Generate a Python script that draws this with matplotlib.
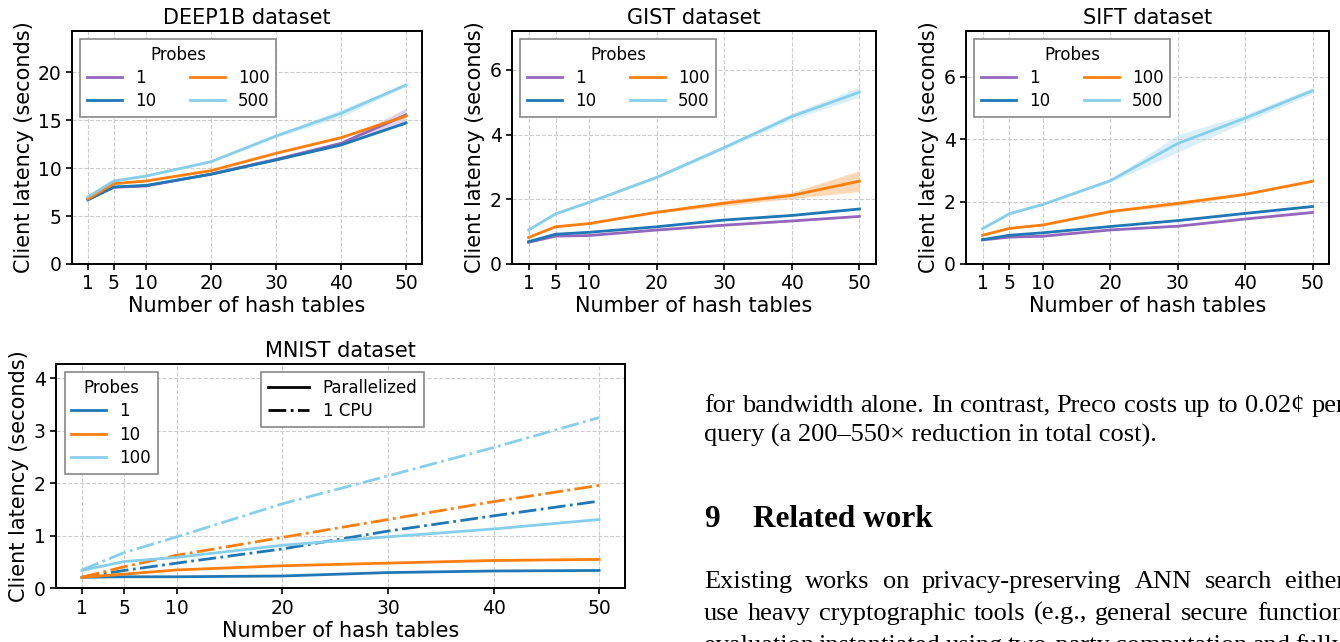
import matplotlib
matplotlib.use("Agg")
import matplotlib.pyplot as plt
from matplotlib.lines import Line2D
import numpy as np

tables = [1, 5, 10, 20, 30, 40, 50]

# colours per probe count
colors = {"1": "#9467bd", "10": "#1f77b4", "100": "#ff7f0e", "500": "#87ceeb"}

# mean latency and spread (half width of band), per dataset
deep1b = {
    "1": [6.75, 8.0, 8.14, 9.39, 10.92, 12.59, 15.55],
    "10": [6.68, 8.03, 8.2, 9.36, 10.85, 12.42, 14.71],
    "100": [6.78, 8.38, 8.66, 9.74, 11.55, 13.18, 15.44],
    "500": [7.0, 8.66, 9.18, 10.68, 13.36, 15.72, 18.68],
}
deep1b_err = {
    "1": [0.05, 0.05, 0.05, 0.08, 0.1, 0.15, 0.7],
    "10": [0.05, 0.05, 0.05, 0.05, 0.05, 0.1, 0.1],
    "100": [0.05, 0.05, 0.05, 0.05, 0.08, 0.1, 0.12],
    "500": [0.05, 0.1, 0.1, 0.1, 0.15, 0.4, 0.15],
}
gist = {
    "1": [0.67, 0.86, 0.88, 1.05, 1.2, 1.33, 1.47],
    "10": [0.69, 0.92, 0.98, 1.15, 1.36, 1.5, 1.70],
    "100": [0.82, 1.15, 1.25, 1.6, 1.88, 2.12, 2.56],
    "500": [1.05, 1.55, 1.91, 2.68, 3.6, 4.56, 5.31],
}
gist_err = {
    "1": [0.01, 0.01, 0.01, 0.01, 0.02, 0.02, 0.02],
    "10": [0.01, 0.01, 0.01, 0.01, 0.02, 0.02, 0.02],
    "100": [0.01, 0.02, 0.02, 0.03, 0.08, 0.1, 0.32],
    "500": [0.02, 0.03, 0.03, 0.05, 0.06, 0.1, 0.15],
}
sift = {
    "1": [0.77, 0.86, 0.89, 1.09, 1.21, 1.44, 1.65],
    "10": [0.78, 0.92, 1.0, 1.2, 1.39, 1.62, 1.84],
    "100": [0.92, 1.14, 1.25, 1.68, 1.94, 2.23, 2.65],
    "500": [1.13, 1.61, 1.91, 2.67, 3.86, 4.67, 5.55],
}
sift_err = {
    "1": [0.01, 0.01, 0.01, 0.01, 0.02, 0.02, 0.02],
    "10": [0.01, 0.01, 0.01, 0.01, 0.02, 0.02, 0.02],
    "100": [0.01, 0.02, 0.02, 0.03, 0.07, 0.03, 0.03],
    "500": [0.02, 0.03, 0.03, 0.05, 0.28, 0.12, 0.1],
}

# MNIST: parallelized vs single cpu
mnist_probes = ["1", "10", "100"]
mnist_colors = ["#1f77b4", "#ff7f0e", "#87ceeb"]
mnist_par = {
    "1": [0.21, 0.22, 0.22, 0.235, 0.30, 0.33, 0.34],
    "10": [0.21, 0.27, 0.35, 0.43, 0.48, 0.53, 0.55],
    "100": [0.34, 0.51, 0.59, 0.82, 0.98, 1.13, 1.31],
}
mnist_cpu = {
    "1": [0.21, 0.34, 0.48, 0.75, 1.09, 1.38, 1.66],
    "10": [0.21, 0.41, 0.63, 0.97, 1.31, 1.65, 1.96],
    "100": [0.35, 0.68, 0.98, 1.61, 2.14, 2.68, 3.25],
}

# paper text around the figure
para1 = ["for bandwidth alone.  In contrast, Preco costs up to 0.02\u00a2 per",
         "query (a 200\u2013550\u00d7 reduction in total cost)."]
section = ("9", "Related work")
para2 = ["Existing works on privacy-preserving ANN search either",
         "use heavy cryptographic tools (e.g., general secure function",
         "evaluation instantiated using two-party computation and fully"]

FS_T = 15
FS_K = 13.5
FS_L = 12


def style_ax(ax, title):
    ax.set_title(title, fontsize=FS_T, pad=5)
    ax.set_xlabel("Number of hash tables", fontsize=FS_T, labelpad=2)
    ax.set_ylabel("Client latency (seconds)", fontsize=FS_T, labelpad=3)
    ax.set_xticks(tables)
    ax.tick_params(labelsize=FS_K, length=4, width=1.2)
    ax.grid(True, linestyle="--", color="#cccccc", linewidth=0.8)
    for s in ax.spines.values():
        s.set_linewidth(1.4)


def plot_panel(ax, data, err, title, ymax, yticks):
    for key in ["1", "10", "100", "500"]:
        y = np.array(data[key])
        e = np.array(err[key])
        ax.plot(tables, y, color=colors[key], lw=2, label=key)
        ax.fill_between(tables, y - e, y + e, color=colors[key], alpha=0.3, lw=0)
    ax.set_ylim(0, ymax)
    ax.set_yticks(yticks)
    style_ax(ax, title)
    leg = ax.legend(title="Probes", ncol=2, loc="upper left", fontsize=FS_L,
                    title_fontsize=FS_L, fancybox=False, edgecolor="#888888",
                    framealpha=1, handlelength=2.1, columnspacing=2.0,
                    borderpad=0.4, labelspacing=0.3)
    leg.get_frame().set_linewidth(1.2)


fig = plt.figure(figsize=(13.4, 6.42), dpi=100)

ax1 = fig.add_axes([0.0537, 0.5888, 0.2612, 0.3629])
plot_panel(ax1, deep1b, deep1b_err, "DEEP1B dataset", 24.3, [0, 5, 10, 15, 20])
ax2 = fig.add_axes([0.3821, 0.5888, 0.2716, 0.3629])
plot_panel(ax2, gist, gist_err, "GIST dataset", 7.2, [0, 2, 4, 6])
ax3 = fig.add_axes([0.7209, 0.5888, 0.2709, 0.3629])
plot_panel(ax3, sift, sift_err, "SIFT dataset", 7.46, [0, 2, 4, 6])

# MNIST panel
ax4 = fig.add_axes([0.0418, 0.0836, 0.4246, 0.3494])
handles = []
for key, c in zip(mnist_probes, mnist_colors):
    h, = ax4.plot(tables, mnist_par[key], color=c, lw=2, label=key)
    ax4.plot(tables, mnist_cpu[key], color=c, lw=2, linestyle="-.")
    handles.append(h)
ax4.set_ylim(0, 4.27)
ax4.set_yticks([0, 1, 2, 3, 4])
style_ax(ax4, "MNIST dataset")
leg1 = ax4.legend(handles=handles, title="Probes", loc="upper left",
                  bbox_to_anchor=(0.015, 0.964), borderaxespad=0,
                  fontsize=FS_L, title_fontsize=FS_L, fancybox=False,
                  edgecolor="#888888", framealpha=1, handlelength=2.1,
                  borderpad=0.4, labelspacing=0.33)
leg1.get_frame().set_linewidth(1.2)
ax4.add_artist(leg1)
style_handles = [Line2D([], [], color="black", lw=2, linestyle="-"),
                 Line2D([], [], color="black", lw=2, linestyle="-.")]
leg2 = ax4.legend(style_handles, ["Parallelized", "1 CPU"], loc="upper left",
                  bbox_to_anchor=(0.36, 0.964), borderaxespad=0,
                  fontsize=FS_L, fancybox=False, edgecolor="#888888",
                  framealpha=1, handlelength=2.5, borderpad=0.4,
                  labelspacing=0.33)
leg2.get_frame().set_linewidth(1.2)

# surrounding paper text (justified lines spread word by word)
serif = ["Liberation Serif", "DejaVu Serif"]
FS_P = 19
renderer = fig.canvas.get_renderer()
X0, X1 = 704, 1345


def put_line(line, y_px, justify):
    y = 1 - y_px / 642
    if not justify:
        fig.text(X0 / 1340, y, line, family=serif, fontsize=FS_P, va="baseline")
        return
    words = line.split()
    texts = [fig.text(0, y, w, family=serif, fontsize=FS_P, va="baseline") for w in words]
    widths = [t.get_window_extent(renderer).width for t in texts]
    gap = (X1 - X0 - sum(widths)) / (len(words) - 1)
    x = X0
    for t, w in zip(texts, widths):
        t.set_x(x / 1340)
        x += w + gap


put_line(para1[0], 412, True)
put_line(para1[1], 442, False)
fig.text(X0 / 1340, 1 - 527 / 642, section[0], family=serif, fontsize=22.5,
         weight="bold", va="baseline")
fig.text(753 / 1340, 1 - 527 / 642, section[1], family=serif, fontsize=22.5,
         weight="bold", va="baseline")
put_line(para2[0], 588, True)
put_line(para2[1], 620, True)
put_line(para2[2], 652, True)

fig.savefig("out.png", dpi=100)
